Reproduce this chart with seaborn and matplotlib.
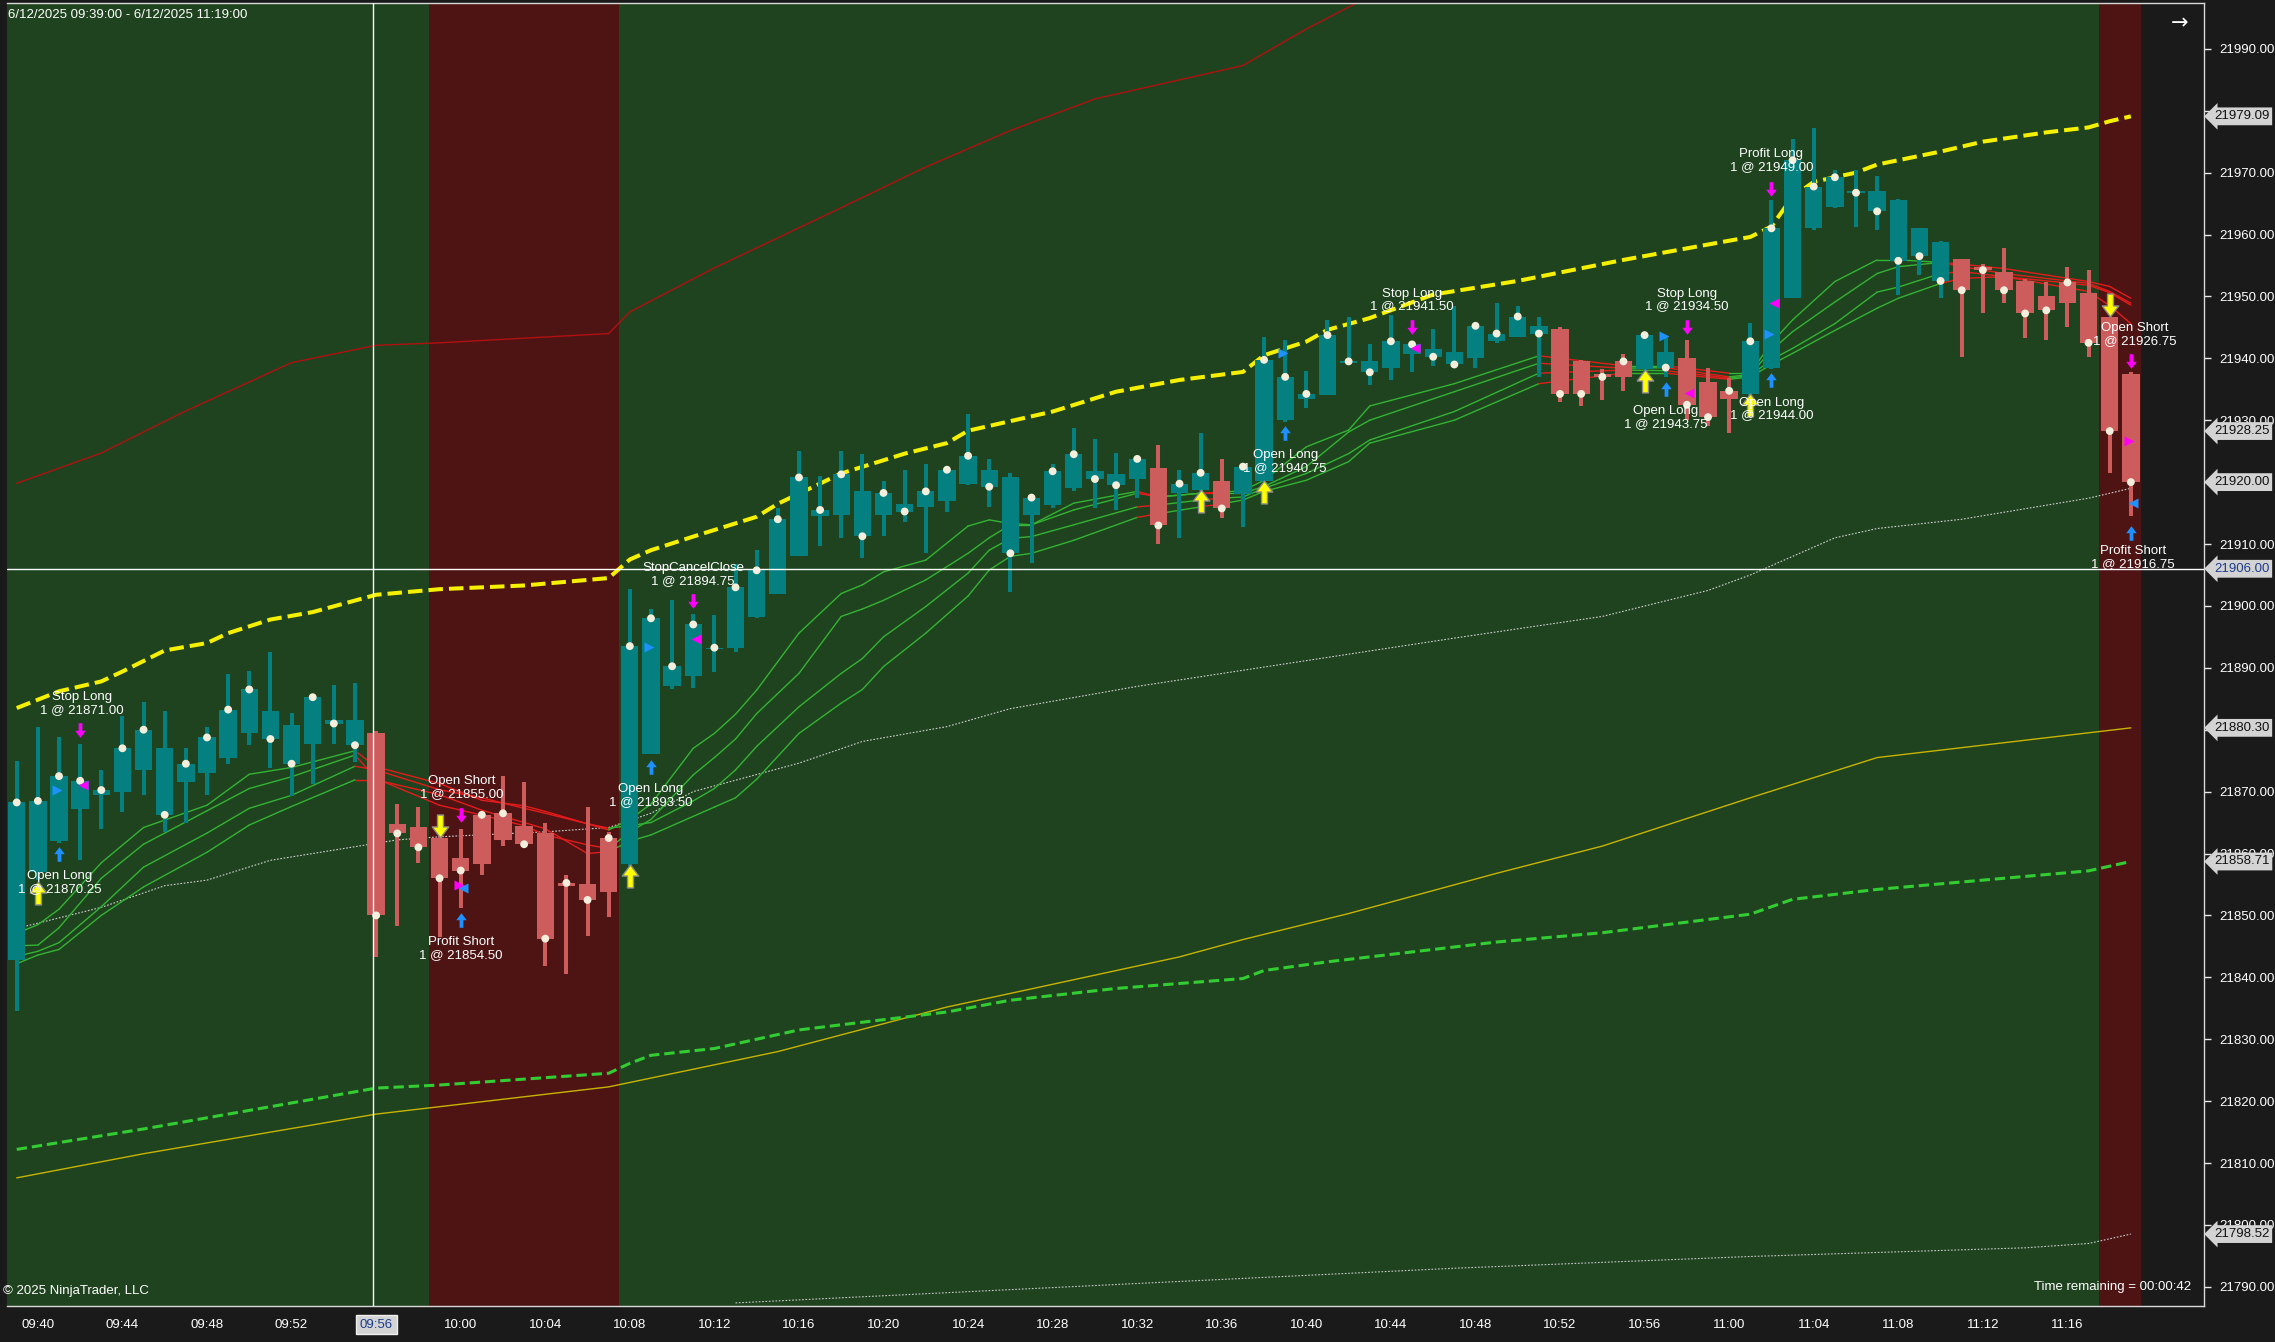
import numpy as np
import pandas as pd
import matplotlib.pyplot as plt
import matplotlib.transforms as mtransforms
from matplotlib.path import Path
import seaborn as sns

# 1-minute bars, 6/12/2025 09:39 .. 11:19
times = pd.date_range("2025-06-12 09:39", "2025-06-12 11:19", freq="1min")

opens = [21842.75, 21857.0, 21862.0, 21867.25, 21869.5, 21870.0, 21873.5, 21877.0, 21871.5, 21873.0,
         21875.5, 21879.5, 21883.0, 21880.75, 21877.75, 21881.5, 21881.5, 21879.5, 21864.75, 21864.25,
         21862.5, 21859.25, 21858.25, 21862.25, 21864.5, 21863.25, 21854.75, 21855.0, 21853.75, 21858.25,
         21876.0, 21887.0, 21888.75, 21893.0, 21893.25, 21898.25, 21902.0, 21908.0, 21914.5, 21914.75,
         21918.5, 21914.75, 21916.5, 21916.0, 21917.0, 21919.75, 21922.0, 21920.75, 21914.75, 21916.25,
         21919.0, 21921.75, 21921.25, 21920.5, 21922.25, 21918.25, 21918.75, 21920.25, 21918.0, 21920.25,
         21930.0, 21933.5, 21934.0, 21939.25, 21939.5, 21938.5, 21940.75, 21941.5, 21941.0, 21940.0,
         21942.75, 21943.5, 21945.25, 21944.75, 21939.5, 21937.5, 21937.0, 21938.25, 21941.0, 21940.0,
         21936.25, 21933.5, 21934.25, 21938.5, 21949.75, 21961.0, 21964.5, 21967.0, 21967.0, 21965.5,
         21961.0, 21958.75, 21956.0, 21954.75, 21954.0, 21952.5, 21950.0, 21949.0, 21950.5, 21946.75,
         21937.5]
highs = [21875.0, 21880.5, 21878.75, 21877.75, 21873.5, 21882.25, 21884.5, 21883.0, 21877.0, 21880.5,
         21889.0, 21889.5, 21892.5, 21882.75, 21885.5, 21887.25, 21887.5, 21879.75, 21868.0, 21867.5,
         21862.75, 21864.0, 21866.5, 21872.5, 21871.5, 21865.0, 21856.5, 21867.5, 21863.5, 21902.75,
         21899.5, 21901.0, 21898.75, 21898.5, 21906.75, 21909.0, 21915.75, 21925.0, 21921.0, 21925.0,
         21924.5, 21920.25, 21922.0, 21923.0, 21922.25, 21931.0, 21923.75, 21921.5, 21917.75, 21923.0,
         21928.75, 21927.0, 21924.75, 21924.0, 21926.0, 21922.0, 21928.0, 21923.75, 21922.75, 21943.5,
         21943.0, 21938.0, 21946.25, 21946.75, 21942.25, 21947.0, 21942.5, 21944.75, 21948.5, 21945.5,
         21949.0, 21948.5, 21946.75, 21945.0, 21939.75, 21938.25, 21940.75, 21944.0, 21943.5, 21943.0,
         21938.5, 21936.75, 21945.75, 21965.5, 21975.5, 21977.25, 21970.5, 21970.5, 21969.5, 21965.75,
         21961.0, 21959.0, 21956.0, 21955.25, 21957.75, 21952.75, 21952.25, 21954.75, 21954.25, 21946.75,
         21937.75]
lows = [21834.5, 21855.75, 21861.75, 21859.0, 21864.0, 21866.75, 21869.5, 21863.5, 21865.0, 21869.5,
        21874.5, 21877.5, 21873.75, 21869.25, 21871.25, 21877.75, 21874.75, 21843.25, 21848.25, 21858.5,
        21846.5, 21851.25, 21856.5, 21861.25, 21861.25, 21841.75, 21840.5, 21846.75, 21849.75, 21858.0,
        21876.0, 21886.5, 21886.75, 21889.25, 21892.5, 21898.0, 21902.0, 21908.0, 21909.75, 21911.0,
        21907.75, 21911.25, 21913.5, 21908.5, 21915.25, 21919.5, 21916.0, 21902.25, 21907.0, 21915.75,
        21918.5, 21915.75, 21915.5, 21917.5, 21910.0, 21911.0, 21918.5, 21914.25, 21912.75, 21920.0,
        21929.75, 21932.0, 21934.0, 21939.0, 21935.75, 21936.5, 21937.75, 21938.75, 21938.75, 21938.5,
        21942.5, 21943.5, 21937.0, 21933.0, 21932.25, 21933.25, 21934.75, 21938.0, 21937.0, 21930.0,
        21929.0, 21928.0, 21934.0, 21938.25, 21949.75, 21960.75, 21964.25, 21961.25, 21960.75, 21950.25,
        21953.5, 21949.75, 21940.25, 21947.25, 21949.0, 21943.25, 21943.0, 21945.0, 21940.25, 21921.5,
        21914.5]
closes = [21868.25, 21868.5, 21872.5, 21871.75, 21870.25, 21877.0, 21880.0, 21866.25, 21874.5, 21878.75,
          21883.25, 21886.5, 21878.5, 21874.5, 21885.25, 21881.0, 21877.5, 21850.0, 21863.25, 21861.0,
          21856.0, 21857.25, 21866.25, 21866.5, 21861.5, 21846.25, 21855.25, 21852.5, 21862.5, 21893.5,
          21898.0, 21890.25, 21897.0, 21893.25, 21903.0, 21905.75, 21914.0, 21920.75, 21915.5, 21921.25,
          21911.25, 21918.25, 21915.25, 21918.5, 21922.0, 21924.25, 21919.25, 21908.5, 21917.5, 21921.75,
          21924.5, 21920.5, 21919.5, 21923.75, 21913.0, 21919.75, 21921.5, 21915.75, 21922.5, 21939.75,
          21937.0, 21934.25, 21943.75, 21939.5, 21937.75, 21942.75, 21942.25, 21940.25, 21939.0, 21945.25,
          21944.0, 21946.75, 21944.0, 21934.25, 21934.25, 21937.0, 21939.5, 21943.75, 21938.5, 21932.5,
          21930.5, 21934.75, 21942.75, 21961.0, 21972.0, 21967.75, 21969.25, 21966.75, 21963.75, 21955.75,
          21956.5, 21952.5, 21951.0, 21954.25, 21951.0, 21947.25, 21947.75, 21952.25, 21942.5, 21928.25,
          21920.0]

# bars painted as down-trend (inclusive bar ranges)
down_runs = [(17, 28), (54, 54), (57, 57), (73, 76), (79, 81), (92, 100)]
# red session background (inclusive bar ranges)
red_zones = [(20, 28), (99, 100)]

# indicator lines, read at knots (bar index, price)
upper_dash_x = [0, 2, 4, 5, 7, 9, 10, 12, 14, 17, 20, 24, 28, 29, 30, 32, 35, 36, 39, 42, 44, 45, 49, 52,
                55, 58, 59, 61, 62, 64, 67, 71, 76, 81, 82, 83, 84, 85, 87, 88, 91, 93, 96, 98, 99, 100]
upper_dash_y = [21883.5, 21886.2, 21887.8, 21889.4, 21892.8, 21894.0, 21895.6, 21897.8, 21899.0, 21901.8,
                21902.7, 21903.3, 21904.5, 21907.5, 21909.0, 21911.2, 21914.4, 21916.5, 21921.4, 21924.6,
                21926.3, 21928.3, 21931.4, 21934.6, 21936.5, 21937.8, 21940.5, 21942.7, 21944.6, 21946.5,
                21950.3, 21952.5, 21955.9, 21959.0, 21959.6, 21961.3, 21966.1, 21968.5, 21970.0, 21971.3,
                21973.4, 21975.0, 21976.5, 21977.3, 21978.3, 21979.09]
outer_red_x = [0, 4, 8, 13, 17, 20, 28, 29, 33, 38, 43, 47, 51, 58, 61, 64]
outer_red_y = [21919.8, 21924.7, 21931.5, 21939.3, 21942.1, 21942.5, 21944.0, 21947.5, 21954.6, 21962.7,
               21970.9, 21976.8, 21981.9, 21987.3, 21993.2, 21998.5]
mid_dot_x = [0, 4, 7, 9, 12, 16, 18, 20, 25, 28, 30, 32, 37, 40, 44, 47, 53, 58, 68, 75, 80, 82, 84, 86,
             88, 92, 98, 100]
mid_dot_y = [21847.9, 21851.3, 21854.8, 21855.7, 21858.9, 21861.1, 21862.2, 21862.7, 21863.5, 21864.2,
             21866.5, 21870.0, 21874.6, 21878.1, 21880.5, 21883.4, 21887.0, 21889.6, 21894.8, 21898.3,
             21902.5, 21905.0, 21908.0, 21911.0, 21912.5, 21914.0, 21917.4, 21919.0]
low_dot_x = [34, 54, 68, 82, 95, 98, 100]
low_dot_y = [21787.4, 21790.7, 21793.0, 21794.9, 21796.3, 21797.0, 21798.52]
gold_x = [0, 6, 17, 28, 36, 44, 47, 55, 58, 63, 70, 75, 82, 88, 100]
gold_y = [21807.6, 21811.5, 21817.9, 21822.3, 21828.0, 21835.2, 21837.4, 21843.3, 21846.1, 21850.3,
          21856.8, 21861.2, 21869.0, 21875.5, 21880.30]
green_dash_x = [0, 6, 13, 17, 20, 28, 29, 30, 33, 37, 44, 47, 52, 58, 59, 62, 66, 70, 75, 82, 84, 88,
                98, 100]
green_dash_y = [21812.2, 21815.5, 21819.7, 21822.1, 21822.6, 21824.5, 21826.1, 21827.4, 21828.5, 21831.5,
                21834.4, 21836.3, 21838.2, 21839.8, 21841.1, 21842.5, 21844.1, 21845.7, 21847.2, 21850.2,
                21852.6, 21854.2, 21857.2, 21858.71]

# four-line moving average ribbon
ribbon_x = [0, 1, 2, 4, 6, 9, 11, 13, 16, 17, 20, 22, 24, 25, 27, 28, 29, 30, 32, 33, 34, 35, 37, 39, 40,
            41, 43, 45, 46, 47, 48, 50, 53, 54, 56, 57, 58, 59, 61, 63, 64, 68, 72, 76, 78, 81, 82, 83, 84,
            86, 88, 89, 91, 92, 94, 98, 99, 100]
ribbon_1 = [21847.1, 21848.5, 21851.0, 21858.5, 21864.2, 21867.8, 21872.8, 21873.9, 21876.6, 21874.0,
            21871.3, 21868.6, 21867.7, 21866.8, 21864.8, 21863.8, 21865.5, 21868.0, 21877.0, 21879.4,
            21882.5, 21886.4, 21895.6, 21902.0, 21903.4, 21905.5, 21907.4, 21912.9, 21913.9, 21913.3,
            21913.1, 21916.6, 21918.5, 21917.6, 21918.2, 21918.4, 21918.6, 21920.3, 21925.7, 21928.4,
            21932.3, 21935.9, 21940.4, 21938.8, 21938.8, 21937.6, 21937.6, 21942.5, 21946.2, 21952.4,
            21955.9, 21955.9, 21955.5, 21955.2, 21954.5, 21952.4, 21951.6, 21949.7]
ribbon_2 = [21845.1, 21845.2, 21848.0, 21856.0, 21861.5, 21866.9, 21870.5, 21872.4, 21875.9, 21872.1,
            21867.8, 21866.2, 21864.5, 21863.0, 21861.4, 21860.8, 21863.5, 21865.5, 21872.7, 21875.5,
            21878.5, 21882.6, 21889.1, 21898.3, 21899.5, 21900.9, 21904.2, 21908.5, 21911.0, 21913.1,
            21913.1, 21915.5, 21918.2, 21917.6, 21918.2, 21918.2, 21918.2, 21919.3, 21922.5, 21928.1,
            21930.0, 21934.6, 21939.2, 21938.4, 21938.5, 21937.0, 21937.4, 21941.3, 21944.3, 21949.1,
            21953.7, 21954.8, 21955.5, 21954.8, 21953.7, 21952.1, 21950.8, 21948.9]
ribbon_3 = [21843.4, 21844.2, 21845.6, 21851.4, 21857.8, 21863.3, 21867.3, 21869.4, 21874.1, 21873.5,
            21870.3, 21869.0, 21867.3, 21866.5, 21864.8, 21864.1, 21864.5, 21865.0, 21868.5, 21870.5,
            21873.5, 21877.3, 21883.7, 21889.1, 21891.5, 21895.0, 21899.9, 21905.3, 21909.0, 21910.9,
            21911.2, 21913.1, 21916.0, 21916.3, 21917.1, 21917.4, 21917.6, 21919.0, 21921.4, 21924.6,
            21926.8, 21931.4, 21937.6, 21938.1, 21938.0, 21936.8, 21937.2, 21939.8, 21941.6, 21945.6,
            21950.7, 21951.5, 21953.7, 21954.0, 21953.2, 21950.8, 21948.5, 21945.6]
ribbon_4 = [21842.2, 21843.6, 21844.5, 21850.0, 21854.6, 21860.2, 21864.6, 21867.6, 21871.9, 21871.9,
            21869.5, 21867.0, 21865.0, 21864.0, 21860.0, 21860.3, 21862.0, 21863.0, 21866.0, 21867.5,
            21869.0, 21872.0, 21879.4, 21884.3, 21886.5, 21890.2, 21895.6, 21901.6, 21905.8, 21908.0,
            21908.5, 21910.6, 21914.3, 21914.9, 21916.0, 21916.5, 21917.1, 21918.5, 21920.3, 21923.3,
            21926.3, 21930.0, 21935.9, 21937.6, 21937.6, 21936.6, 21937.0, 21939.0, 21940.8, 21944.5,
            21948.1, 21949.7, 21952.1, 21952.9, 21953.2, 21951.8, 21950.6, 21948.6]

# trade markers (bar, price)
open_long_arrows = [(1, 21853.6), (29, 21856.3), (56, 21916.9), (59, 21918.4), (77, 21936.3), (82, 21932.5)]
open_short_arrows = [(20, 21864.4), (99, 21948.6)]
exit_arrows = [(3, 21879.9), (21, 21866.3), (32, 21900.8), (66, 21945.0), (79, 21945.0), (83, 21967.4),
               (100, 21939.5)]
buy_arrows = [(2, 21859.9), (21, 21849.2), (30, 21873.9), (60, 21927.9), (78, 21935.0), (83, 21936.5),
              (100, 21911.8)]
buy_fills = [(2, 21870.2, ">"), (21, 21854.4, "<"), (30, 21893.4, ">"), (60, 21940.8, ">"),
             (78, 21943.6, ">"), (83, 21943.9, ">"), (100, 21916.6, "<")]
sell_fills = [(3, 21871.1, "<"), (21, 21854.9, ">"), (32, 21894.6, "<"), (66, 21941.6, "<"),
              (79, 21934.4, "<"), (83, 21949.0, "<"), (100, 21926.6, ">")]
trade_labels = [
    (3.1, 21884.2, "Stop Long\n1 @ 21871.00"),
    (2.05, 21855.3, "Open Long\n1 @ 21870.25"),
    (21.05, 21870.6, "Open Short\n1 @ 21855.00"),
    (21.0, 21844.7, "Profit Short\n1 @ 21854.50"),
    (30.0, 21869.3, "Open Long\n1 @ 21893.50"),
    (32.0, 21905.1, "StopCancelClose\n1 @ 21894.75"),
    (60.0, 21923.3, "Open Long\n1 @ 21940.75"),
    (66.0, 21949.4, "Stop Long\n1 @ 21941.50"),
    (79.0, 21949.4, "Stop Long\n1 @ 21934.50"),
    (78.0, 21930.4, "Open Long\n1 @ 21943.75"),
    (83.0, 21931.8, "Open Long\n1 @ 21944.00"),
    (83.0, 21971.9, "Profit Long\n1 @ 21949.00"),
    (100.2, 21943.9, "Open Short\n1 @ 21926.75"),
    (100.1, 21907.8, "Profit Short\n1 @ 21916.75"),
]

price_flags = [21979.09, 21928.25, 21920.00, 21880.30, 21858.71, 21798.52]
crosshair_bar = 16.86
crosshair_price = 21906.00

# colours
BG = "#1a1a1a"
GREEN_BG = "#1f431f"
RED_BG = "#4e1414"
TEAL = "#058080"
CANDLE_RED = "#cd5c5c"
DOT = "#f3efdc"
RIB_GREEN = "#33b333"
RIB_RED = "#e41b1b"

sns.set_theme(style="dark", rc={"axes.facecolor": BG, "figure.facecolor": BG})
plt.rcParams["font.family"] = ["Liberation Sans", "DejaVu Sans"]

W, H = 2275, 1342
fig = plt.figure(figsize=(W / 100, H / 100), dpi=100)
ax = fig.add_axes([7 / W, 36 / H, 2197 / W, 1303 / H])
ax.set_facecolor(BG)

n = len(closes)
x = np.arange(n)
trend = np.array(["up"] * n, dtype=object)
for a, b in down_runs:
    trend[a:b + 1] = "down"

x_left, x_right = -0.46, 103.46

# session backgrounds
ax.axvspan(x_left, n - 0.5, color=GREEN_BG, lw=0, zorder=0)
for a, b in red_zones:
    ax.axvspan(a - 0.5, b + 0.5, color=RED_BG, lw=0, zorder=0.1)

# indicator lines
def draw_line(xs, ys, color, lw, dashes=None, z=2):
    sns.lineplot(x=xs, y=ys, ax=ax, color=color, lw=lw, zorder=z, estimator=None, sort=False)
    line = ax.lines[-1]
    if dashes is not None:
        line.set_dashes(dashes)
        line.set_dash_capstyle("butt")

draw_line(outer_red_x, outer_red_y, "#b01010", 1.0)
draw_line(low_dot_x, low_dot_y, "#c8c8c8", 0.8, dashes=(1.5, 1.5))
draw_line(gold_x, gold_y, "#c8b400", 1.0)
draw_line(green_dash_x, green_dash_y, "#33cc33", 2.2, dashes=(3.4, 1.6))
draw_line(mid_dot_x, mid_dot_y, "#d0d0d0", 0.8, dashes=(1.5, 1.5))

# ribbon, coloured segment by segment with the bar trend
for ys in (ribbon_4, ribbon_3, ribbon_2, ribbon_1):
    for k in range(1, len(ribbon_x)):
        col = RIB_RED if trend[ribbon_x[k]] == "down" else RIB_GREEN
        ax.plot(ribbon_x[k - 1:k + 1], ys[k - 1:k + 1], color=col, lw=1.0, zorder=2.2)

draw_line(upper_dash_x, upper_dash_y, "#f5f000", 2.9, dashes=(3.6, 1.5), z=2.5)

# candles
o, c, h, l = map(np.array, (opens, closes, highs, lows))
cols = [TEAL if t == "up" else CANDLE_RED for t in trend]
body_lo = np.minimum(o, c)
body_h = np.maximum(np.abs(c - o), 0.2)
ax.vlines(x, l, h, colors=cols, lw=2.9, zorder=3)
ax.bar(x, body_h, bottom=body_lo, width=0.82, color=cols, lw=0, zorder=3)
sns.scatterplot(x=x, y=c, ax=ax, color=DOT, s=32, edgecolor="none", zorder=6, legend=False)

# trade arrows
up_arrow = Path([(-0.13, -0.5), (0.13, -0.5), (0.13, 0.02), (0.36, 0.02), (0.0, 0.5),
                 (-0.36, 0.02), (-0.13, 0.02), (-0.13, -0.5)], closed=True)
down_arrow = Path([(px, -py) for px, py in up_arrow.vertices], closed=True)

def place(points, marker, ms, fc, ec="none", mew=0.0, z=7):
    px = [p[0] for p in points]
    py = [p[1] for p in points]
    ax.plot(px, py, ls="none", marker=marker, ms=ms, mfc=fc, mec=ec, mew=mew, zorder=z)

place(open_long_arrows, up_arrow, 16.5, "#ffff00", "#8c8c8c", 1.0)
place(open_short_arrows, down_arrow, 16.5, "#ffff00", "#8c8c8c", 1.0)
place(exit_arrows, down_arrow, 10.5, "#ff00ff")
place(buy_arrows, up_arrow, 10.5, "#1e90ff")
for bx, by, m in buy_fills:
    off = -0.1 if m == ">" else 0.12
    ax.plot(bx + off, by, ls="none", marker=m, ms=6.5, mfc="#1e90ff", mec="none", zorder=7)
for bx, by, m in sell_fills:
    off = -0.1 if m == ">" else 0.12
    ax.plot(bx + off, by, ls="none", marker=m, ms=6.5, mfc="#ff00ff", mec="none", zorder=7)

for bx, by, txt in trade_labels:
    ax.text(bx, by, txt, color="white", fontsize=9.5, ha="center", va="center",
            linespacing=1.1, zorder=9, clip_on=False)

# crosshair
ax.axvline(crosshair_bar, color="white", lw=1.0, zorder=8)
ax.axhline(crosshair_price, color="white", lw=1.0, zorder=8)

# axes, ticks
ax.set_xlim(x_left, x_right)
ax.set_ylim(21786.9, 21997.4)
ax.set_xlabel("")
ax.set_ylabel("")
ax.grid(False)
ax.yaxis.tick_right()
yt = np.arange(21790, 21991, 10)
ax.set_yticks(yt)
# labels fully hidden under a price flag are left blank
flag_all = price_flags + [crosshair_price]
ax.set_yticklabels(["" if min(abs(v - f) for f in flag_all) < 1.0 else f"{v:.2f}" for v in yt])
tick_bars = list(range(1, n - 3, 4))
ax.set_xticks(tick_bars)
ax.set_xticklabels([times[i].strftime("%H:%M") for i in tick_bars])
ax.tick_params(axis="both", colors="#e8e8e8", labelcolor="white", labelsize=9.5,
               length=5, width=1, direction="out", pad=4)
ax.tick_params(axis="y", pad=6)
for side in ("top", "right", "bottom"):
    ax.spines[side].set_color("#d8d8d8")
    ax.spines[side].set_linewidth(1.0)
ax.spines["left"].set_visible(False)

for lab in ax.get_xticklabels():
    if lab.get_text() == "09:56":
        lab.set_color("#1c3c8c")
        lab.set_bbox(dict(boxstyle="square,pad=0.3", fc="#d3d3d3", ec="#f0f0f0", lw=1))

# price flags on the right axis
tr = mtransforms.blended_transform_factory(ax.transAxes, ax.transData)
for v in price_flags:
    ax.text(1.0045, v, f"{v:.2f}", transform=tr, ha="left", va="center", fontsize=9.5,
            color="#111111", zorder=10, clip_on=False,
            bbox=dict(boxstyle="larrow,pad=0.22", fc="#d3d3d3", ec="none"))
ax.text(1.0045, crosshair_price, f"{crosshair_price:.2f}", transform=tr, ha="left", va="center",
        fontsize=9.5, color="#1c3c8c", zorder=10, clip_on=False,
        bbox=dict(boxstyle="larrow,pad=0.22", fc="#d3d3d3", ec="none"))

fig.text(8 / W, 1 - 15 / H, "6/12/2025 09:39:00 - 6/12/2025 11:19:00", color="white",
         fontsize=9.5, va="center", ha="left")
fig.text(3 / W, 1 - 1291 / H, "\u00a9 2025 NinjaTrader, LLC", color="white", fontsize=9.5,
         va="center", ha="left")
fig.text(2191 / W, 1 - 1287 / H, "Time remaining = 00:00:42", color="white", fontsize=9.5,
         va="center", ha="right")
fig.text(2180 / W, 1 - 23 / H, "\u2192", color="white", fontsize=15, va="center", ha="center",
         family="DejaVu Sans")

fig.savefig("out.png", dpi=100, facecolor=BG)
